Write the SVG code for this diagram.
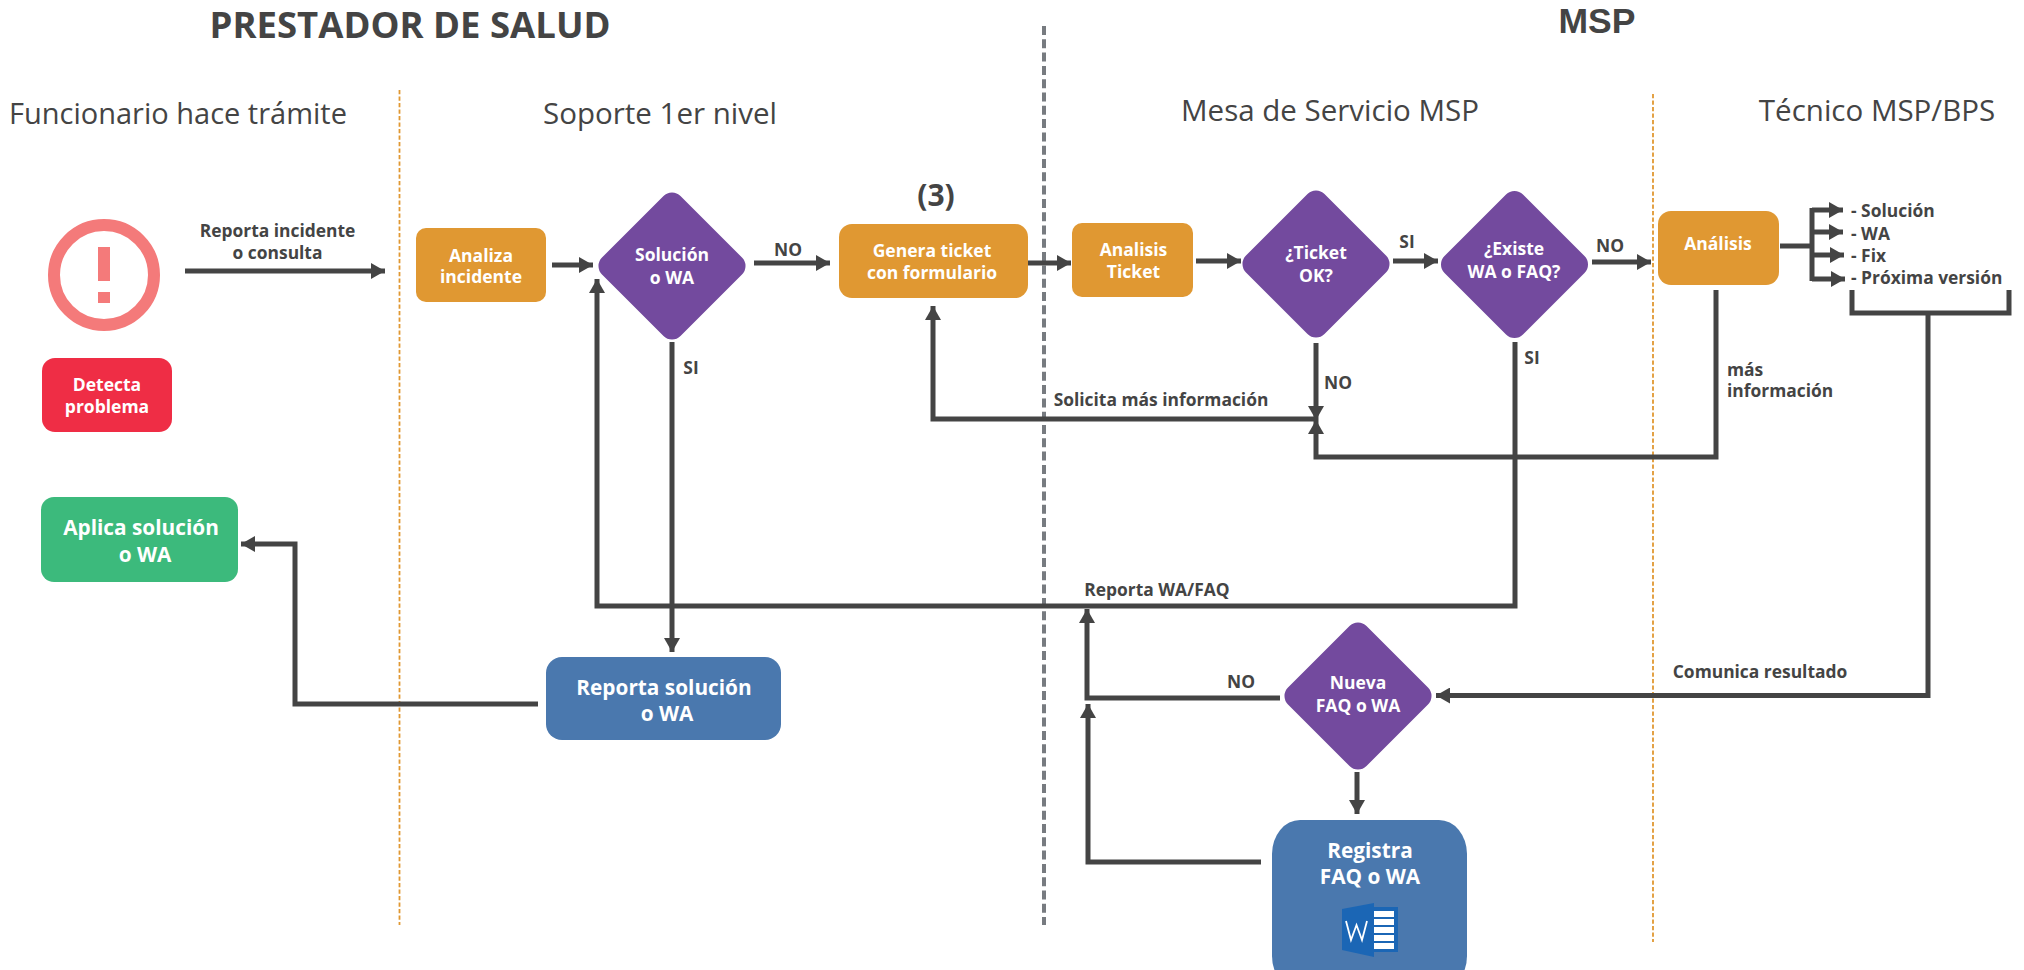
<svg xmlns="http://www.w3.org/2000/svg" width="2024" height="970" viewBox="0 0 2024 970">
<style>
text{font-family:"Open Sans","Noto Sans","Liberation Sans",sans-serif;text-anchor:middle}
.h{font-size:36.5px;font-weight:700;fill:#444}
.lane{font-size:29.5px;fill:#444}
.l{font-size:17.4px;font-weight:700;fill:#444}
.w{font-size:17.5px;font-weight:700;fill:#fff}
.b{font-size:20.8px;font-weight:700;fill:#fff}
.s{text-anchor:start}
.or{fill:#e09832}.pu{fill:#734a9e}.bl{fill:#4a78ae}
.c{fill:none;stroke:#444;stroke-width:5}
.a{marker-end:url(#ah)}
.o{stroke:#e09832;stroke-width:1.8;stroke-dasharray:4.3 2.2;fill:none}
</style>
<defs>
<marker id="ah" markerUnits="userSpaceOnUse" markerWidth="14" markerHeight="16" refX="14" refY="8" orient="auto"><path d="M0 0L14 8L0 16Z" fill="#444"/></marker>
</defs>
<text class="h" x="410" y="38">PRESTADOR DE SALUD</text>
<text class="h" x="1597" y="33" style="font-size:35.5px;font-family:'Liberation Sans',sans-serif">MSP</text>
<text class="lane" x="178" y="124" style="font-size:29px">Funcionario hace trámite</text>
<text class="lane" x="660" y="124">Soporte 1er nivel</text>
<text class="lane" x="1330" y="121">Mesa de Servicio MSP</text>
<text class="lane" x="1877" y="121">Técnico MSP/BPS</text>
<g id="dividers">
<path class="o" d="M399.500 90V925"/>
<path class="o" d="M1653 94V942"/>
<path d="M1044 26V925" fill="none" stroke="#777b80" stroke-width="4" stroke-dasharray="9 4.300"/>
</g>
<g id="connectors">
<path class="c a" d="M185 271H385"/>
<path class="c a" d="M552 265H593"/>
<path class="c a" d="M754 263H830"/>
<path class="c a" d="M1026 263H1071"/>
<path class="c a" d="M1196 261H1241"/>
<path class="c a" d="M1393 261H1438"/>
<path class="c a" d="M1592 262H1651"/>
<path class="c" d="M1780 246H1812"/>
<path class="c a" d="M1812 210H1843"/>
<path class="c a" d="M1812 232H1843"/>
<path class="c a" d="M1812 255H1844"/>
<path class="c a" d="M1812 279H1845"/>
<path class="c" d="M1812 208V281"/>
<path class="c" d="M1852 290V313H2009V290"/>
<path class="c a" d="M1928 313V695.500H1436"/>
<path class="c a" d="M1316 343V420"/>
<path class="c a" d="M1316 419H933V306"/>
<path class="c a" d="M1716 290V457H1316V420"/>
<path class="c a" d="M1515 342V606H597V279"/>
<path class="c a" d="M672 342V652"/>
<path class="c a" d="M538 704H295V544H241"/>
<path class="c a" d="M1280 698H1087V609"/>
<path class="c a" d="M1357 772V814"/>
<path class="c a" d="M1261 862H1088V704"/>
</g>
<text class="l" x="277.500" y="237">Reporta incidente</text>
<text class="l" x="277.500" y="259">o consulta</text>
<text class="l" x="788" y="256">NO</text>
<text class="l" x="1407" y="248">SI</text>
<text class="l" x="1610" y="252">NO</text>
<text class="l" x="691" y="374">SI</text>
<text class="l" x="1338" y="389">NO</text>
<text class="l" x="1532" y="364">SI</text>
<text class="l" x="1161" y="406">Solicita más información</text>
<text class="l s" x="1727" y="376">más</text>
<text class="l s" x="1727" y="397">información</text>
<text class="l" x="1157" y="596">Reporta WA/FAQ</text>
<text class="l" x="1241" y="688">NO</text>
<text class="l" x="1760" y="678">Comunica resultado</text>
<text class="l s" x="1851" y="217">- Solución</text>
<text class="l s" x="1851" y="240">- WA</text>
<text class="l s" x="1851" y="262">- Fix</text>
<text class="l s" x="1851" y="284">- Próxima versión</text>
<text x="936" y="206" style="font-size:30px;font-weight:700;fill:#444">(3)</text>
<g id="alert"><circle cx="104" cy="275" r="50" fill="none" stroke="#f47a7a" stroke-width="12"/><path d="M98 247h12v34h-12zM98 292h12v11h-12z" fill="#f47a7a"/></g>
<g id="detecta"><rect x="42" y="358" width="130" height="74" rx="13" fill="#ef2d45"/><text class="w" x="107" y="391">Detecta</text><text class="w" x="107" y="413">problema</text></g>
<g id="analiza"><rect class="or" x="416" y="228" width="130" height="74" rx="10"/><text class="w" x="481" y="262">Analiza</text><text class="w" x="481" y="283">incidente</text></g>
<g id="solucion"><rect class="pu" x="616.500" y="210.500" width="111" height="111" rx="12" transform="rotate(45 672 266)"/><text class="w" x="672" y="261">Solución</text><text class="w" x="672" y="284">o WA</text></g>
<g id="genera"><rect class="or" x="839" y="224" width="189" height="74" rx="13"/><text class="w" x="932" y="257">Genera ticket</text><text class="w" x="932" y="279">con formulario</text></g>
<g id="analisis-ticket"><rect class="or" x="1072" y="223" width="121" height="74" rx="10"/><text class="w" x="1133.500" y="256">Analisis</text><text class="w" x="1133.500" y="278">Ticket</text></g>
<g id="ticket-ok"><rect class="pu" x="1260.500" y="208.500" width="111" height="111" rx="12" transform="rotate(45 1316 264)"/><text class="w" x="1316" y="259">¿Ticket</text><text class="w" x="1316" y="282">OK?</text></g>
<g id="existe"><rect class="pu" x="1459" y="209" width="111" height="111" rx="12" transform="rotate(45 1514.500 264.500)"/><text class="w" x="1514" y="255">¿Existe</text><text class="w" x="1514" y="278">WA o FAQ?</text></g>
<g id="analisis"><rect class="or" x="1658" y="211" width="121" height="74" rx="13"/><text class="w" x="1718" y="250">Análisis</text></g>
<g id="aplica"><rect x="41" y="497" width="197" height="85" rx="13" fill="#3cba7c"/><text class="b" x="141" y="535">Aplica solución</text><text class="b" x="145" y="562">o WA</text></g>
<g id="reporta"><rect class="bl" x="546" y="657" width="235" height="83" rx="16"/><text class="b" x="664" y="695">Reporta solución</text><text class="b" x="667" y="721">o WA</text></g>
<g id="nueva"><rect class="pu" x="1302.500" y="640.500" width="111" height="111" rx="12" transform="rotate(45 1358 696)"/><text class="w" x="1358" y="689">Nueva</text><text class="w" x="1358" y="712">FAQ o WA</text></g>
<g id="registra"><rect class="bl" x="1272" y="820" width="195" height="170" rx="28" ry="34"/><text class="b" x="1370" y="858">Registra</text><text class="b" x="1370" y="884">FAQ o WA</text>
<path d="M1374 907h24v45h-24z" fill="#1b66b5"/>
<path d="M1374 911h20v6h-20zM1374 919h20v6h-20zM1374 927h20v6h-20zM1374 935h20v6h-20zM1374 943h20v6h-20z" fill="#fff"/>
<path d="M1342 909L1374 903V957L1342 950Z" fill="#1b66b5"/>
<path d="M1346 921L1351 940L1356.500 925L1362 940L1367 921" fill="none" stroke="#fff" stroke-width="1.800"/></g>
</svg>
